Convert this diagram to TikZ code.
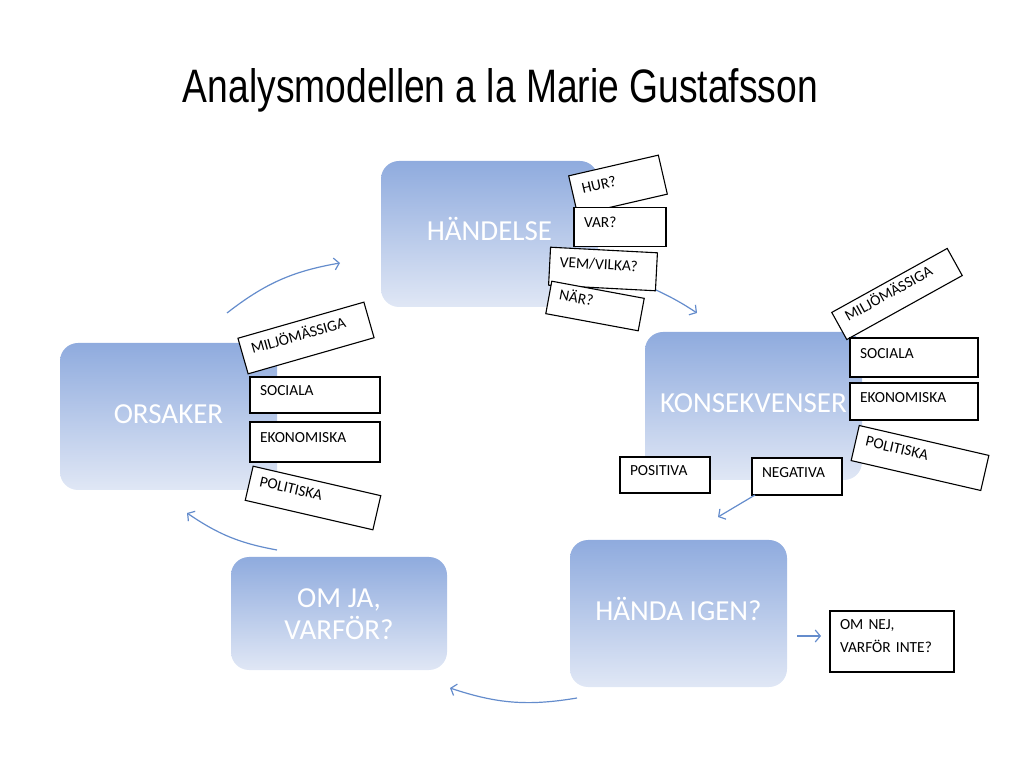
\documentclass[tikz,border=0pt]{standalone}
\usepackage{graphicx}
\usepackage{fontspec}
\setmainfont{Carlito}
\newfontfamily\titlefont{Liberation Sans}
\usetikzlibrary{arrows.meta}
\definecolor{boxtop}{RGB}{143,171,222}
\definecolor{boxbot}{RGB}{224,231,245}
\definecolor{arr}{RGB}{100,140,204}
\begin{document}
\begin{tikzpicture}[x=1pt,y=1pt,
  bigbox/.style={rounded corners=18pt, top color=boxtop, bottom color=boxbot, draw=none,
    text=white, font=\fontsize{29}{32}\selectfont, align=center, inner sep=0pt,
    text height=18.7pt, text depth=5pt},
  sbox/.style={draw=black, line width=1.1pt, fill=white, font=\fontsize{15.4}{18}\selectfont,
    align=left, inner xsep=10pt, inner ysep=0pt, text height=9.9pt, text depth=8.5pt},
  conn/.style={draw=arr, line width=1.2pt, -{Straight Barb[length=5pt,width=12pt]}}
]
\useasboundingbox (0,0) rectangle (1024,768);

% title
\node[anchor=base, inner sep=0pt] (title) at (500.5,665)
  {\resizebox{635pt}{34pt}{\titlefont Analysmodellen a la Marie Gustafsson}};

% main boxes
\node[bigbox, minimum width=217pt, minimum height=146pt] (hand) at (489.5,534) {HÄNDELSE};
\node[bigbox, minimum width=217pt, minimum height=147pt] (ors) at (168.5,351.5) {ORSAKER};
\node[bigbox, minimum width=217pt, minimum height=148pt] (kon) at (753.5,362) {KONSEKVENSER};
\node[bigbox, minimum width=217pt, minimum height=147pt] (igen) at (678.5,154.5) {HÄNDA IGEN?};
\node[bigbox, minimum width=216pt, minimum height=113pt, text height=51.7pt, text depth=0pt] (omja) at (339,154.5) {OM JA,\\VARFÖR?};

% HÄNDELSE questions
\node[sbox, text width=72pt, minimum height=40pt, rotate=13] (hur) at (618,583) {HUR?};
\node[sbox, text width=72pt, minimum height=39pt] (var) at (620,541) {VAR?};
\node[sbox, text width=87pt, minimum height=38pt, rotate=-3] (vem) at (603,499) {VEM/VILKA?};
\node[sbox, text width=74pt, minimum height=33pt, rotate=-10.5] (nar) at (595,462) {NÄR?};

% KONSEKVENSER
\node[sbox, text width=112pt, minimum height=31pt, rotate=29] (kmil) at (897,474) {MILJÖMÄSSIGA};
\node[sbox, text width=108pt, minimum height=39pt] (ksoc) at (914,410.5) {SOCIALA};
\node[sbox, text width=108pt, minimum height=37pt] (keko) at (914,366.5) {EKONOMISKA};
\node[sbox, text width=113pt, minimum height=36pt, rotate=-13] (kpol) at (920,310) {POLITISKA};
\node[sbox, text width=70pt, minimum height=36pt] (pos) at (665,293) {POSITIVA};
\node[sbox, text width=70pt, minimum height=37pt] (neg) at (797,291.5) {NEGATIVA};

% ORSAKER
\node[sbox, text width=111pt, minimum height=37pt, rotate=16] (omil) at (306,430) {MILJÖMÄSSIGA};
\node[sbox, text width=110pt, minimum height=36pt] (osoc) at (315,373) {SOCIALA};
\node[sbox, text width=110pt, minimum height=40pt] (oeko) at (315,326) {EKONOMISKA};
\node[sbox, text width=111pt, minimum height=35pt, rotate=-13] (opol) at (313,270) {POLITISKA};

% OM NEJ
\node[sbox, text width=104pt, minimum height=61pt, text depth=33pt,
  font=\fontsize{15.4}{23}\selectfont] (nej) at (892,126.5) {OM NEJ,\\VARFÖR INTE?};

% arrows
\coordinate (a1s) at (227,455); \coordinate (a1e) at (340,505);
\coordinate (a2s) at (656,478); \coordinate (a2e) at (697,455);
\coordinate (a3s) at (755,273); \coordinate (a3e) at (718,251);
\coordinate (a4s) at (797,132); \coordinate (a4e) at (821,132);
\coordinate (a5s) at (577,70);  \coordinate (a5e) at (450,80);
\coordinate (a6s) at (277,218); \coordinate (a6e) at (187,255);
\draw[conn] (a1s) to[bend left=14] (a1e);
\draw[conn] (a2s) to[bend left=4] (a2e);
\draw[conn] (a3s) -- (a3e);
\draw[conn] (a4s) -- (a4e);
\draw[conn] (a5s) to[bend left=14] (a5e);
\draw[conn] (a6s) to[bend left=12] (a6e);
\end{tikzpicture}
\end{document}
